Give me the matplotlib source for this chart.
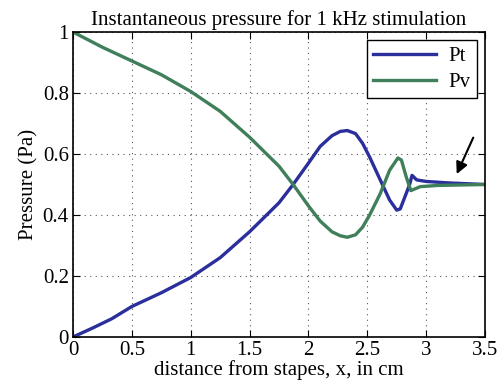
import matplotlib
matplotlib.use("Agg")
import matplotlib.pyplot as plt

plt.rcParams['font.family'] = ['Liberation Serif', 'DejaVu Serif']

x_pt = [0, 0.17, 0.33, 0.5, 0.75, 1.0, 1.25, 1.5, 1.75, 1.87, 2.0, 2.1, 2.2, 2.27, 2.33,
        2.4, 2.46, 2.52, 2.61, 2.69, 2.75, 2.78, 2.83, 2.86, 2.88, 2.92, 3.0, 3.2, 3.5]
pt = [0, 0.03, 0.06, 0.1, 0.145, 0.195, 0.26, 0.345, 0.44, 0.5, 0.57, 0.625, 0.66, 0.674, 0.677,
      0.667, 0.635, 0.59, 0.515, 0.449, 0.416, 0.42, 0.47, 0.5, 0.53, 0.515, 0.51, 0.505, 0.5]

x_pv = [0, 0.25, 0.5, 0.75, 1.0, 1.25, 1.5, 1.75, 1.87, 2.0, 2.1, 2.2, 2.27, 2.33, 2.4, 2.46,
        2.52, 2.61, 2.69, 2.76, 2.79, 2.83, 2.87, 2.95, 3.1, 3.5]
pv = [1.0, 0.95, 0.905, 0.86, 0.805, 0.74, 0.655, 0.56, 0.5, 0.43, 0.38, 0.345, 0.332, 0.327,
      0.335, 0.36, 0.4, 0.47, 0.547, 0.587, 0.58, 0.526, 0.48, 0.493, 0.497, 0.5]

x_ticks = [0, 0.5, 1, 1.5, 2, 2.5, 3, 3.5]
y_ticks = [0, 0.2, 0.4, 0.6, 0.8, 1]


def main():
    fig = plt.figure(figsize=(4.97, 3.87), dpi=100)
    ax = fig.add_axes([73 / 497, 50 / 387, 412 / 497, 305 / 387])
    ax.plot(x_pt, pt, color="#2b2f9c", lw=2.4, label="Pt")
    ax.plot(x_pv, pv, color="#3f7f5a", lw=2.4, label="Pv")
    ax.set_xlim(0, 3.5)
    ax.set_ylim(0, 1)
    ax.set_xticks(x_ticks)
    ax.set_xticklabels([f"{v:g}" for v in x_ticks])
    ax.set_yticks(y_ticks)
    ax.set_yticklabels([f"{v:g}" for v in y_ticks])
    ax.tick_params(direction="in", top=True, right=True, labelsize=15, length=5, pad=3)
    ax.grid(True, linestyle=(0, (1, 4)), color="#555555", lw=0.8)
    for s in ax.spines.values():
        s.set_linewidth(1.2)
    ax.set_title("Instantaneous pressure for 1 kHz stimulation", fontsize=15, pad=5)
    ax.set_xlabel("distance from stapes, x, in cm", fontsize=15, labelpad=0)
    ax.set_ylabel("Pressure (Pa)", fontsize=15, labelpad=3)
    leg = ax.legend(loc="upper right", fontsize=15, fancybox=False, edgecolor="black",
                    framealpha=1, handlelength=3.0, borderpad=0.3, labelspacing=0.3,
                    borderaxespad=0.4, handletextpad=0.6)
    leg.get_frame().set_linewidth(1.0)
    ax.annotate("", xy=(3.25, 0.526), xytext=(3.41, 0.662),
                arrowprops=dict(arrowstyle="-|>,head_length=0.7,head_width=0.35",
                                color="black", lw=1.5))
    fig.savefig("out.png", dpi=100)


if __name__ == "__main__":
    main()
